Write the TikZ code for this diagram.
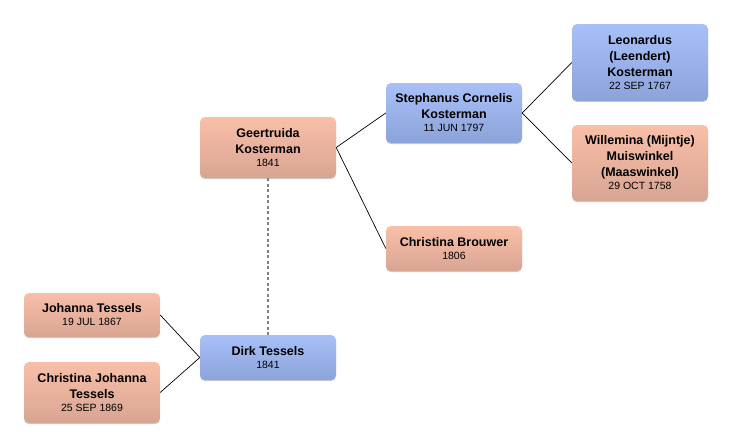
\documentclass[tikz,border=0pt]{standalone}
\usepackage{fontspec}
\setmainfont{Liberation Sans}
\usetikzlibrary{shadows}

\tikzset{
  person/.style={rounded corners=5pt, minimum width=136pt, align=center,
    inner sep=0pt, font=\bfseries\fontsize{12.5}{16}\selectfont,
    drop shadow={shadow xshift=0pt, shadow yshift=-1.2pt, opacity=0.2, fill=black}},
  male/.style={person, top color=maletop, bottom color=malebot},
  female/.style={person, top color=femtop, bottom color=fembot},
  link/.style={draw=black, line width=0.7pt},
  partner/.style={draw=gray, line width=2pt, dash pattern=on 3pt off 2.5pt}
}
\definecolor{maletop}{RGB}{168,192,248}
\definecolor{malebot}{RGB}{140,163,218}
\definecolor{femtop}{RGB}{249,191,168}
\definecolor{fembot}{RGB}{216,165,147}
\newcommand{\born}[1]{\\[-3pt]{\mdseries\fontsize{10.5}{12}\selectfont #1}}

\begin{document}
\begin{tikzpicture}[x=1pt, y=-1pt]
  \useasboundingbox (0,0) rectangle (732,447);
  \node[female, minimum height=61pt] (geertruida) at (268,147.5) {Geertruida\\Kosterman\born{1841}};
  \node[male, minimum height=60pt] (stephanus) at (454,113) {Stephanus Cornelis\\Kosterman\born{11 JUN 1797}};
  \node[female, minimum height=45pt] (brouwer) at (454,248.5) {Christina Brouwer\born{1806}};
  \node[male, minimum height=77pt] (leonardus) at (640,62.5) {Leonardus\\(Leendert)\\Kosterman\born{22 SEP 1767}};
  \node[female, minimum height=76pt] (willemina) at (640,163) {Willemina (Mijntje)\\Muiswinkel\\(Maaswinkel)\born{29 OCT 1758}};
  \node[female, minimum height=44pt] (johanna) at (92,315) {Johanna Tessels\born{19 JUL 1867}};
  \node[female, minimum height=61pt] (christinaj) at (92,392.5) {Christina Johanna\\Tessels\born{25 SEP 1869}};
  \node[male, minimum height=45pt] (dirk) at (268,357.5) {Dirk Tessels\born{1841}};

  \draw[link] (geertruida.east) -- (stephanus.west);
  \draw[link] (geertruida.east) -- (brouwer.west);
  \draw[link] (stephanus.east) -- (leonardus.west);
  \draw[link] (stephanus.east) -- (willemina.west);
  \draw[link] (dirk.west) -- (johanna.east);
  \draw[link] (dirk.west) -- (christinaj.east);
  \draw[partner] (geertruida.south) -- (dirk.north);
\end{tikzpicture}
\end{document}
